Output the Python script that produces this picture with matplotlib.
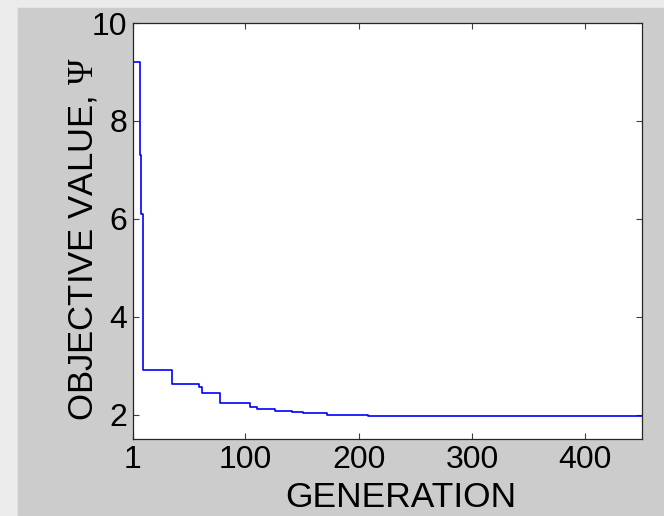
import matplotlib
matplotlib.use('Agg')
import matplotlib.pyplot as plt
from matplotlib.patches import Rectangle

# best objective value per generation (value holds until the next change)
gen = [1, 7, 8, 10, 35, 59, 62, 78, 104, 110, 126, 141, 151, 172, 208, 244, 450]
psi = [9.2, 7.3, 6.1, 2.9, 2.63, 2.56, 2.44, 2.23, 2.16, 2.11, 2.08, 2.05, 2.03, 2.00, 1.98, 1.96, 1.96]

xticks = [1, 100, 200, 300, 400]
yticks = [2, 4, 6, 8, 10]

plt.rcParams['font.family'] = ['Liberation Sans', 'DejaVu Sans']
plt.rcParams['mathtext.fontset'] = 'custom'
plt.rcParams['mathtext.rm'] = 'Liberation Serif'

fig = plt.figure(figsize=(6.64, 5.16), dpi=100, facecolor='#ebebeb')
fig.patches.append(Rectangle((18/664, 0), 1 - 18/664, 1 - 8/516,
                             transform=fig.transFigure, color='#cccccc', zorder=-1))

ax = fig.add_axes([133/664, 77/516, 509/664, 416/516])
ax.plot(gen, psi, drawstyle='steps-post', color='#0000ff', lw=1.2)

ax.set_xlim(1, 450)
ax.set_ylim(1.5, 10)
ax.set_xticks(xticks)
ax.set_yticks(yticks)
ax.tick_params(direction='in', length=4, width=0.8, color='#404040',
               labelsize=23, top=True, right=True, pad=4)
for s in ax.spines.values():
    s.set_color('#262626')
    s.set_linewidth(0.9)

ax.set_xlabel('GENERATION', fontsize=25.5)
ax.set_ylabel(r'OBJECTIVE VALUE, $\mathrm{\Psi}$', fontsize=25)
ax.xaxis.set_label_coords(0.527, -0.1)
ax.yaxis.set_label_coords(-0.065, 0.48)

fig.savefig('out.png', dpi=100, facecolor=fig.get_facecolor())
